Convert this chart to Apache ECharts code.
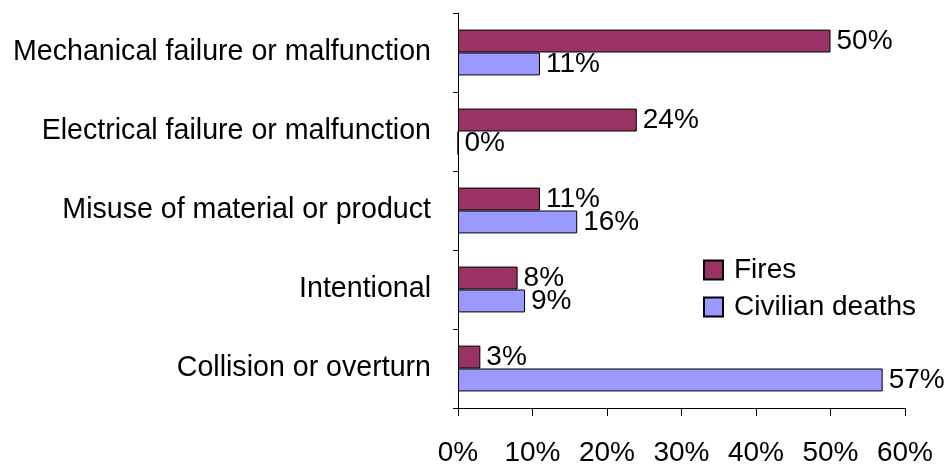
<!DOCTYPE html>
<html><head><meta charset="utf-8">
<script src="https://cdn.jsdelivr.net/npm/echarts@6/dist/echarts.min.js"></script>
<style>html,body{margin:0;padding:0;background:#fff}#c{width:951px;height:468px}</style>
</head><body><div id="c"></div>
<script>
var categories = ['Mechanical failure or malfunction','Electrical failure or malfunction','Misuse of material or product','Intentional','Collision or overturn'];
var fires = [50, 24, 11, 8, 3];
var deaths = [11, 0, 16, 9, 57];
var xTicks = [0,10,20,30,40,50,60];
var font = 'Liberation Sans, Arial, sans-serif';
var chart = echarts.init(document.getElementById('c'));
chart.setOption({
  animation:false,
  grid:{left:458, right:46, top:13, bottom:60, containLabel:false},
  legend:{orient:'vertical', left:698, top:251, icon:'rect', itemWidth:19, itemHeight:19, itemGap:9,
    textStyle:{fontFamily:font, fontSize:28, color:'#000', padding:[0,0,0,6]},
    data:['Fires','Civilian deaths']},
  xAxis:{type:'value', min:0, max:60, interval:10,
    axisLine:{show:true, lineStyle:{color:'#000'}},
    axisTick:{show:true, length:8, inside:false, lineStyle:{color:'#000'}},
    splitLine:{show:false},
    axisLabel:{fontFamily:font, fontSize:28, color:'#000', margin:31, formatter:'{value}%'}},
  yAxis:{type:'category', data:categories, inverse:true,
    axisLine:{show:true, lineStyle:{color:'#000'}},
    axisTick:{show:true, length:5, lineStyle:{color:'#000'}},
    axisLabel:{fontFamily:font, fontSize:28.6, color:'#000', margin:27}},
  series:[
    {name:'Fires', type:'bar', data:fires, barGap:'0%', barCategoryGap:'42%',
     itemStyle:{color:'#993366', borderColor:'#000', borderWidth:1},
     label:{show:true, position:'right', distance:6, formatter:'{c}%', fontFamily:font, fontSize:28, color:'#000'}},
    {name:'Civilian deaths', type:'bar', data:deaths, barGap:'0%', barCategoryGap:'42%',
     itemStyle:{color:'#9999FF', borderColor:'#000', borderWidth:1},
     label:{show:true, position:'right', distance:6, formatter:'{c}%', fontFamily:font, fontSize:28, color:'#000'}}
  ]
});
</script></body></html>
